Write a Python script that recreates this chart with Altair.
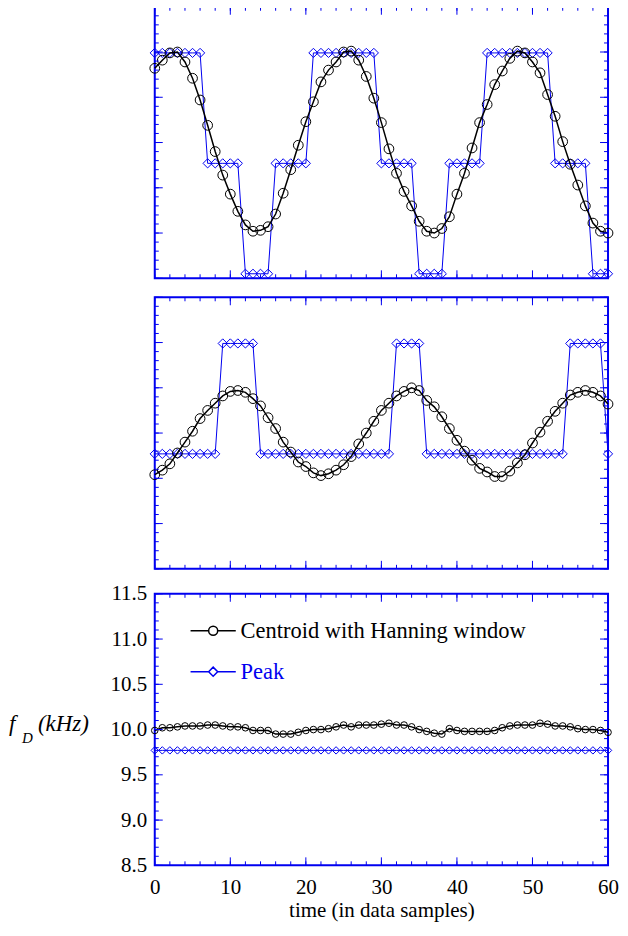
import altair as alt
import pandas as pd

BLUE = "#0000f0"
FONT = "Liberation Serif"

samples = [0, 1, 2, 3, 4, 5, 6, 7, 8, 9,
           10, 11, 12, 13, 14, 15, 16, 17, 18, 19,
           20, 21, 22, 23, 24, 25, 26, 27, 28, 29,
           30, 31, 32, 33, 34, 35, 36, 37, 38, 39,
           40, 41, 42, 43, 44, 45, 46, 47, 48, 49,
           50, 51, 52, 53, 54, 55, 56, 57, 58, 59, 60]

series_names = ["Centroid with Hanning window", "Peak"]

x_major_ticks = [0, 10, 20, 30, 40, 50, 60]
x_minor_ticks = [0, 2, 4, 6, 8, 10, 12, 14, 16, 18, 20, 22, 24, 26, 28, 30,
                 32, 34, 36, 38, 40, 42, 44, 46, 48, 50, 52, 54, 56, 58, 60]
y_major_ticks = [8.5, 9.0, 9.5, 10.0, 10.5, 11.0, 11.5]
y_minor_ticks = [8.5, 8.6, 8.7, 8.8, 8.9, 9.0, 9.1, 9.2, 9.3, 9.4, 9.5,
                 9.6, 9.7, 9.8, 9.9, 10.0, 10.1, 10.2, 10.3, 10.4, 10.5,
                 10.6, 10.7, 10.8, 10.9, 11.0, 11.1, 11.2, 11.3, 11.4, 11.5]

# ---- top panel ----
top_centroid = [10.82, 10.91, 10.99, 11.00, 10.89, 10.71, 10.47, 10.19, 9.90, 9.64,
                9.43, 9.24, 9.09, 9.02, 9.03, 9.07, 9.21, 9.44, 9.70, 9.97,
                10.23, 10.45, 10.67, 10.80, 10.89, 11.00, 11.01, 10.91, 10.73, 10.49,
                10.22, 9.93, 9.66, 9.46, 9.30, 9.13, 9.02, 9.00, 9.05, 9.18,
                9.43, 9.66, 9.94, 10.22, 10.42, 10.64, 10.79, 10.93, 11.01, 10.99,
                10.89, 10.77, 10.53, 10.29, 10.01, 9.76, 9.53, 9.30, 9.11, 9.02, 9.00]
top_peak = [10.99, 10.99, 10.99, 10.99, 10.99, 10.99, 10.99, 9.77, 9.77, 9.77,
            9.77, 9.77, 8.55, 8.55, 8.55, 8.55, 9.77, 9.77, 9.77, 9.77,
            9.77, 10.99, 10.99, 10.99, 10.99, 10.99, 10.99, 10.99, 10.99, 10.99,
            9.77, 9.77, 9.77, 9.77, 9.77, 8.55, 8.55, 8.55, 8.55, 9.77,
            9.77, 9.77, 9.77, 9.77, 10.99, 10.99, 10.99, 10.99, 10.99, 10.99,
            10.99, 10.99, 10.99, 9.77, 9.77, 9.77, 9.77, 9.77, 8.55, 8.55, 8.55]

# ---- middle panel ----
mid_centroid = [9.54, 9.59, 9.66, 9.78, 9.90, 10.02, 10.16, 10.25, 10.33, 10.41,
                10.46, 10.47, 10.45, 10.38, 10.30, 10.17, 10.05, 9.90, 9.79, 9.68,
                9.63, 9.56, 9.53, 9.55, 9.59, 9.65, 9.74, 9.88, 10.00, 10.13,
                10.25, 10.33, 10.41, 10.46, 10.50, 10.47, 10.36, 10.29, 10.18, 10.05,
                9.92, 9.80, 9.70, 9.61, 9.57, 9.52, 9.52, 9.58, 9.67, 9.76,
                9.89, 10.01, 10.13, 10.24, 10.33, 10.42, 10.45, 10.47, 10.45, 10.41, 10.32]
mid_peak = [9.77, 9.77, 9.77, 9.77, 9.77, 9.77, 9.77, 9.77, 9.77, 10.99,
            10.99, 10.99, 10.99, 10.99, 9.77, 9.77, 9.77, 9.77, 9.77, 9.77,
            9.77, 9.77, 9.77, 9.77, 9.77, 9.77, 9.77, 9.77, 9.77, 9.77,
            9.77, 9.77, 10.99, 10.99, 10.99, 10.99, 9.77, 9.77, 9.77, 9.77,
            9.77, 9.77, 9.77, 9.77, 9.77, 9.77, 9.77, 9.77, 9.77, 9.77,
            9.77, 9.77, 9.77, 9.77, 9.77, 10.99, 10.99, 10.99, 10.99, 10.99, 9.77]

# ---- bottom panel ----
bot_centroid = [9.99, 10.02, 10.02, 10.03, 10.04, 10.04, 10.04, 10.05, 10.05, 10.04,
                10.03, 10.03, 10.02, 9.99, 9.99, 9.99, 9.95, 9.95, 9.95, 9.97,
                9.99, 10.00, 10.00, 10.01, 10.03, 10.05, 10.03, 10.05, 10.05, 10.05,
                10.06, 10.07, 10.05, 10.05, 10.03, 10.00, 9.98, 9.96, 9.95, 10.01,
                9.99, 9.98, 9.98, 9.98, 9.98, 9.99, 10.02, 10.04, 10.05, 10.05,
                10.05, 10.07, 10.06, 10.04, 10.04, 10.03, 10.01, 10.00, 10.00, 9.99, 9.97]
bot_peak = [9.77, 9.77, 9.77, 9.77, 9.77, 9.77, 9.77, 9.77, 9.77, 9.77,
            9.77, 9.77, 9.77, 9.77, 9.77, 9.77, 9.77, 9.77, 9.77, 9.77,
            9.77, 9.77, 9.77, 9.77, 9.77, 9.77, 9.77, 9.77, 9.77, 9.77,
            9.77, 9.77, 9.77, 9.77, 9.77, 9.77, 9.77, 9.77, 9.77, 9.77,
            9.77, 9.77, 9.77, 9.77, 9.77, 9.77, 9.77, 9.77, 9.77, 9.77,
            9.77, 9.77, 9.77, 9.77, 9.77, 9.77, 9.77, 9.77, 9.77, 9.77, 9.77]

y_title_parts = ["f", "D", "(kHz)"]

W, H = 454, 272
FS = 21
MAJ, MIN = 8, 4
xs = alt.Scale(domain=[0, 60], nice=False, zero=False)
ys = alt.Scale(domain=[8.5, 11.5], nice=False, zero=False)


def tick_layers():
    """Inward frame ticks on all four sides, drawn from the tick arrays."""
    layers = []
    for vals, ln in ((x_major_ticks, MAJ), (x_minor_ticks, MIN)):
        d = alt.Chart(pd.DataFrame({"v": vals}))
        layers.append(d.mark_rule(color=BLUE, strokeWidth=1).encode(
            x=alt.X("v:Q", scale=xs, axis=None), y=alt.value(H), y2=alt.value(H - ln)))
        layers.append(d.mark_rule(color=BLUE, strokeWidth=1).encode(
            x=alt.X("v:Q", scale=xs, axis=None), y=alt.value(0), y2=alt.value(ln)))
    for vals, ln in ((y_major_ticks, MAJ), (y_minor_ticks, MIN)):
        d = alt.Chart(pd.DataFrame({"v": vals}))
        layers.append(d.mark_rule(color=BLUE, strokeWidth=1).encode(
            y=alt.Y("v:Q", scale=ys, axis=None), x=alt.value(0), x2=alt.value(ln)))
        layers.append(d.mark_rule(color=BLUE, strokeWidth=1).encode(
            y=alt.Y("v:Q", scale=ys, axis=None), x=alt.value(W), x2=alt.value(W - ln)))
    return layers


def data_layers(centroid, peak, c_size, p_size, bottom):
    df = pd.DataFrame({"t": samples, "centroid": centroid, "peak": peak})
    base = alt.Chart(df)
    if bottom:
        xax = alt.Axis(orient="bottom", values=x_major_ticks, format="d", ticks=False,
                       tickSize=0, domain=False, grid=False, labelPadding=11,
                       labelFlush=False, labelFont=FONT, labelFontSize=FS,
                       labelColor="black", title="time (in data samples)",
                       titleFont=FONT, titleFontSize=21, titleFontWeight="normal",
                       titleColor="black", titlePadding=2)
        yax = alt.Axis(orient="left", values=y_major_ticks, format=".1f", ticks=False,
                       tickSize=0, domain=False, grid=False, labelPadding=8,
                       labelFlush=False, labelFont=FONT, labelFontSize=FS,
                       labelColor="black", title=None, minExtent=0)
    else:
        xax = None
        yax = None
    peak_line = base.mark_line(color=BLUE, strokeWidth=1).encode(
        x=alt.X("t:Q", scale=xs, axis=xax),
        y=alt.Y("peak:Q", scale=ys, axis=yax),
    )
    peak_pts = base.mark_point(shape="diamond", color=BLUE, size=p_size,
                               strokeWidth=1, filled=False, opacity=1).encode(
        x=alt.X("t:Q", scale=xs, axis=None),
        y=alt.Y("peak:Q", scale=ys, axis=None),
    )
    cen_line = base.mark_line(color="black", strokeWidth=1.5).encode(
        x=alt.X("t:Q", scale=xs, axis=None),
        y=alt.Y("centroid:Q", scale=ys, axis=None),
    )
    cen_pts = base.mark_point(shape="circle", color="black", size=c_size,
                              strokeWidth=1, filled=False, opacity=1).encode(
        x=alt.X("t:Q", scale=xs, axis=None),
        y=alt.Y("centroid:Q", scale=ys, axis=None),
    )
    return [peak_line, peak_pts, cen_line, cen_pts]


top = alt.layer(*data_layers(top_centroid, top_peak, 95, 85, False),
                *tick_layers()).properties(width=W, height=H)
mid = alt.layer(*data_layers(mid_centroid, mid_peak, 95, 85, False),
                *tick_layers()).properties(width=W, height=H)

# legend carrier layer (invisible marks, real legend)
leg_df = pd.DataFrame({
    "t": samples + samples,
    "v": bot_centroid + bot_peak,
    "series": [series_names[0]] * len(samples) + [series_names[1]] * len(samples),
})
circ_sym = "M-1,0H-0.2M0.2,0H1M-0.2,0A0.2,0.2 0 1,1 0.2,0A0.2,0.2 0 1,1 -0.2,0Z"
diam_sym = "M-1,0H-0.2M0.2,0H1M-0.2,0L0,-0.2L0.2,0L0,0.2Z"
leg = alt.Legend(orient="none", legendX=35, legendY=26, title=None,
                 symbolSize=2050, symbolStrokeWidth=1.5, symbolOpacity=1,
                 labelFont=FONT, labelFontSize=22.5, labelOffset=4,
                 labelColor=alt.ExprRef(expr="datum.label == 'Peak' ? '#0000f0' : 'black'"),
                 clipHeight=22, rowPadding=18, padding=0, labelLimit=400)
legend_layer = alt.Chart(leg_df).mark_point(opacity=0, filled=False, size=4).encode(
    x=alt.X("t:Q", scale=xs, axis=None),
    y=alt.Y("v:Q", scale=ys, axis=None),
    shape=alt.Shape("series:N", scale=alt.Scale(domain=series_names, range=[circ_sym, diam_sym]),
                    legend=leg),
    stroke=alt.Stroke("series:N", scale=alt.Scale(domain=series_names, range=["black", BLUE]),
                      legend=leg),
)

title_df_f = pd.DataFrame({"s": [y_title_parts[0]]})
title_df_d = pd.DataFrame({"s": [y_title_parts[1]]})
title_df_k = pd.DataFrame({"s": [y_title_parts[2]]})
t_f = alt.Chart(title_df_f).mark_text(font=FONT, fontSize=23, fontStyle="italic",
                                      align="left", baseline="alphabetic").encode(
    text="s:N", x=alt.value(-146), y=alt.value(137.5))
t_d = alt.Chart(title_df_d).mark_text(font=FONT, fontSize=15, fontStyle="italic",
                                      align="left", baseline="alphabetic").encode(
    text="s:N", x=alt.value(-133), y=alt.value(149))
t_k = alt.Chart(title_df_k).mark_text(font=FONT, fontSize=23, fontStyle="italic",
                                      align="left", baseline="alphabetic").encode(
    text="s:N", x=alt.value(-117), y=alt.value(137.5))

bot = alt.layer(*data_layers(bot_centroid, bot_peak, 44, 55, True),
                *tick_layers(), legend_layer, t_f, t_d, t_k).resolve_axis(
    x="independent", y="independent").properties(width=W, height=H)

chart = alt.vconcat(alt.vconcat(top, mid, spacing=13), bot, spacing=11).resolve_legend(
    shape="independent", stroke="independent"
).properties(
    padding={"left": 0, "top": -4, "right": 0, "bottom": 0},
    background="white",
).configure_view(stroke=BLUE, strokeWidth=2)

chart.save("out.html", embed_options={"renderer": "svg", "actions": False})
